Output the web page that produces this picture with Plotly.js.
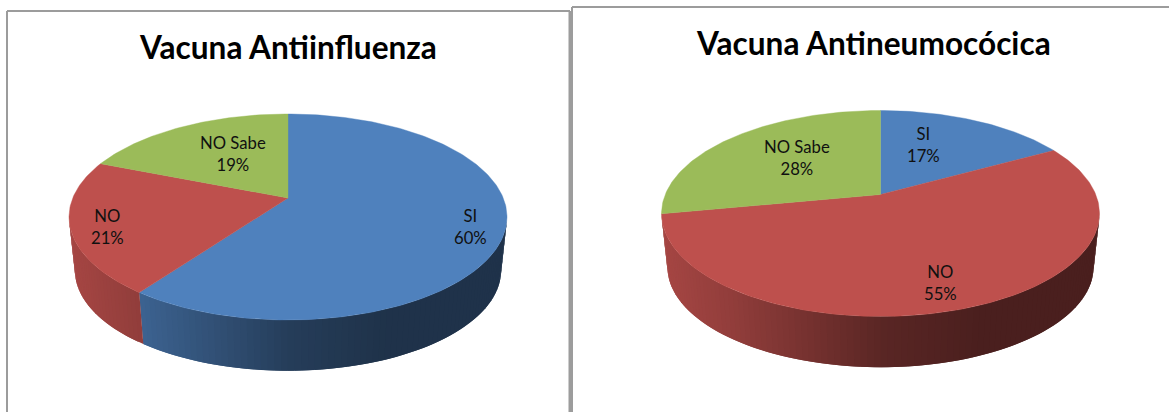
<!DOCTYPE html>
<html><head><meta charset="utf-8">
<script src="https://cdn.plot.ly/plotly-3.0.1.min.js"></script>
<style>html,body{margin:0;padding:0;background:#fff;overflow:hidden}</style>
</head><body><div id="chart" style="width:1169px;height:412px"></div>
<script>
// ---- data ----
const categories = ["SI", "NO", "NO Sabe"];
const influenzaValues = [60, 21, 19];
const neumoValues = [17, 55, 28];
const influenzaTitle = "Vacuna Antiinfluenza";
const neumoTitle = "Vacuna Antineumocócica";

// ---- styles ----
const sliceColors = [[79,129,189],[190,80,77],[155,187,89]];
const wallShadeT = [0, .16, .5, .72, 1];
const wallShadeM = [.87, .76, .47, .39, .39];
const FONT = "Lato, Carlito, sans-serif";

// ---- panel geometry (pixel-based axes) ----
const panels = [
  {title: influenzaTitle, values: influenzaValues, cx: 288, apexY: 198, up: 84, down: 122, titleX: 288, titleY: 47,
   labels: [[470.5,226.5],[107,226.5],[233,153.5]]},
  {title: neumoTitle, values: neumoValues, cx: 880.5, apexY: 194.5, up: 84, down: 122, titleX: 873, titleY: 43,
   labels: [[923.5,144.5],[940,282.5],[797,157.5]]}
];
const RX = 219, LOWER_SCALE = 0.973, LOWER_DROP = 54;

function project(p, deg, lower) {
  const th = deg * Math.PI / 180, u = Math.sin(th), v = Math.cos(th);
  const c = (p.down - p.up) / (p.down + p.up);
  const a = p.up * (1 + c), A = RX * Math.sqrt(1 - c * c);
  const s = lower ? LOWER_SCALE : 1, d = 1 + c * v;
  return [p.cx + s * A * u / d, p.apexY + (lower ? LOWER_DROP : 0) - s * a * v / d];
}
function shade(t) {
  t = Math.max(0, Math.min(1, t));
  for (let i = 1; i < wallShadeT.length; i++) if (t <= wallShadeT[i]) {
    const f = (t - wallShadeT[i-1]) / (wallShadeT[i] - wallShadeT[i-1]);
    return wallShadeM[i-1] + f * (wallShadeM[i] - wallShadeM[i-1]);
  }
  return 1;
}
const traces = [], annotations = [];
panels.forEach(p => {
  const total = p.values.reduce((a, b) => a + b, 0);
  const c = (p.down - p.up) / (p.down + p.up);
  const visFrom = Math.acos(-c) * 180 / Math.PI, visTo = 360 - visFrom; // silhouette of the disc
  let start = 0;
  const bounds = p.values.map(v => { const r = [start, start + v / total * 360]; start = r[1]; return r; });
  // side wall first; each strip overlaps the next so no seams show
  bounds.forEach((b, i) => {
    const from = Math.max(b[0], visFrom), to = Math.min(b[1], visTo);
    if (to <= from) return;
    const n = Math.max(1, Math.ceil((to - from) / 1.5));
    const step = (to - from) / n;
    for (let k = 0; k < n; k++) {
      const d0 = from + step * k, d1 = Math.min(to, d0 + 2 * step);
      const xs = [], ys = [];
      const a0 = project(p, d0), am = project(p, Math.min(to, d0 + step)), a1 = project(p, d1);
      const b0 = project(p, d0, true), bm = project(p, Math.min(to, d0 + step), true), b1 = project(p, d1, true);
      [a0, am, a1, b1, bm, b0, a0].forEach(q => { xs.push(q[0]); ys.push(q[1]); });
      const m = shade((am[0] - (p.cx - RX)) / (2 * RX));
      const col = "rgb(" + sliceColors[i].map(v => Math.round(v * m)).join(",") + ")";
      traces.push({type: "scatter", mode: "lines", x: xs, y: ys,
        fill: "toself", fillcolor: col, line: {color: col, width: 0}, hoverinfo: "skip", showlegend: false});
    }
  });
  bounds.forEach((b, i) => {
    const xs = [p.cx], ys = [p.apexY];
    const n = Math.ceil((b[1] - b[0]) / 1);
    for (let k = 0; k <= n; k++) {
      const q = project(p, b[0] + (b[1] - b[0]) * k / n);
      xs.push(q[0]); ys.push(q[1]);
    }
    xs.push(p.cx); ys.push(p.apexY);
    const col = "rgb(" + sliceColors[i].join(",") + ")";
    traces.push({type: "scatter", mode: "lines", x: xs, y: ys, fill: "toself", fillcolor: col,
      line: {color: col, width: 0.4}, name: categories[i], text: p.values[i] + "%", hoverinfo: "name+text", showlegend: false});
    annotations.push({xref: "x", yref: "y", x: p.labels[i][0], y: p.labels[i][1], showarrow: false, align: "center",
      text: categories[i] + "<br>" + Math.round(p.values[i] / total * 100) + "%",
      font: {family: FONT, size: 16.7, color: "#101010"}});
  });
  annotations.push({xref: "x", yref: "y", x: p.titleX, y: p.titleY, showarrow: false,
    text: "<b>" + p.title + "</b>", font: {family: FONT, size: 31.6, color: "#000"}});
});
const frame = {color: "#9c9c9c", width: 2};
const seg = (x0, y0, x1, y1, w) => ({type: "line", xref: "x", yref: "y", x0, y0, x1, y1, line: {color: frame.color, width: w || frame.width}});
const shapes = [seg(7, 11, 570, 11), seg(7, 11, 7, 412), seg(570, 11, 570, 412, 3),
                seg(572, 7, 1169, 7), seg(572, 7, 572, 412)];
Plotly.newPlot("chart", traces, {
  width: 1169, height: 412, margin: {l: 0, r: 0, t: 0, b: 0},
  paper_bgcolor: "#fff", plot_bgcolor: "#fff", showlegend: false,
  xaxis: {range: [0, 1169], visible: false, fixedrange: true},
  yaxis: {range: [412, 0], visible: false, fixedrange: true},
  shapes, annotations
}, {displayModeBar: false, staticPlot: true});
</script></body></html>
